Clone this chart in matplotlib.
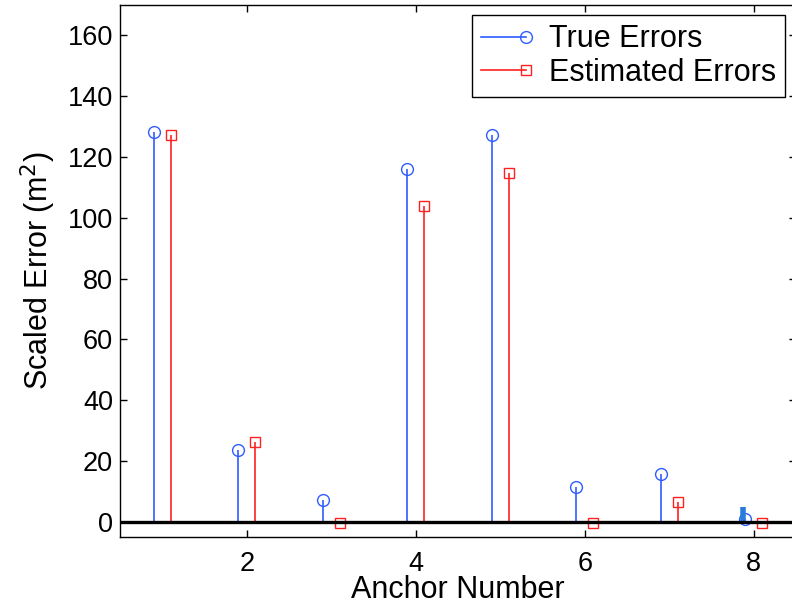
import matplotlib
matplotlib.use('Agg')
import matplotlib.pyplot as plt
import numpy as np
from matplotlib.lines import Line2D
from matplotlib.legend_handler import HandlerBase

plt.rcParams['font.family'] = ['Liberation Sans', 'DejaVu Sans']

# Data
anchors = np.arange(1, 9)
true_errors = [128.1, 23.7, 7.2, 116.2, 127.1, 11.5, 15.8, 1.0]
estimated_errors = [127.4, 26.3, -0.3, 104.0, 114.9, -0.3, 6.6, -0.3]
# thick blue blip drawn over the last true stem
blip_top = [5.0]

blue = '#2f5cff'
red = '#ff2020'
offset = 0.1


class HandlerMarkerEnd(HandlerBase):
    """MATLAB-style legend entry: marker at the right end of the line"""
    def create_artists(self, legend, orig_handle, xdescent, ydescent,
                       width, height, fontsize, trans):
        y = height / 2 - ydescent
        line = Line2D([-xdescent, width - xdescent], [y, y],
                      color=orig_handle.get_color(),
                      linewidth=orig_handle.get_linewidth(), transform=trans)
        mark = Line2D([width - xdescent], [y], linestyle='none',
                      marker=orig_handle.get_marker(),
                      markersize=orig_handle.get_markersize(),
                      markeredgecolor=orig_handle.get_color(),
                      markerfacecolor='none',
                      markeredgewidth=orig_handle.get_markeredgewidth(),
                      transform=trans)
        return [line, mark]


fig = plt.figure(figsize=(7.92, 6.05), dpi=100, facecolor='white')
ax = fig.add_axes([120 / 792, 1 - 537 / 605, 676 / 792, 532 / 605])

x_true = anchors - offset
x_est = anchors + offset

m1, s1, b1 = ax.stem(x_true, true_errors, basefmt=' ')
plt.setp(s1, color=blue, linewidth=1.2)
plt.setp(m1, color=blue, marker='o', markersize=8.5, markerfacecolor='none',
         markeredgewidth=1.0)

m2, s2, b2 = ax.stem(x_est, estimated_errors, basefmt=' ')
plt.setp(s2, color=red, linewidth=1.2)
plt.setp(m2, color=red, marker='s', markersize=7.5, markerfacecolor='none',
         markeredgewidth=1.0)

ax.vlines(x_true[-1:] - 0.03, 0, blip_top, color='#2a7bdc', linewidth=4, zorder=3)

ax.axhline(0, color='black', linewidth=2.4, zorder=4)

ax.set_xlim(0.5, 8.5)
ax.set_ylim(-5, 170)
ax.set_xticks([2, 4, 6, 8])
ax.set_yticks(np.arange(0, 161, 20))
ax.tick_params(direction='in', top=True, right=True, labelsize=19.5, length=5, width=1)
ax.tick_params(axis='x', pad=10)
ax.tick_params(axis='y', pad=5)
for sp in ax.spines.values():
    sp.set_linewidth(1)

ax.set_xlabel('Anchor Number', fontsize=22, labelpad=-1)
ax.set_ylabel('Scaled Error (m$^2$)', fontsize=22, labelpad=7)

h1 = Line2D([], [], color=blue, linewidth=1.2, marker='o', markersize=8.5,
            markerfacecolor='none', markeredgewidth=1.0)
h2 = Line2D([], [], color=red, linewidth=1.2, marker='s', markersize=7.5,
            markerfacecolor='none', markeredgewidth=1.0)
leg = ax.legend([h1, h2], ['True Errors', 'Estimated Errors'], loc='upper right',
                bbox_to_anchor=(0.9837, 0.981), borderaxespad=0, fontsize=22,
                handlelength=1.45, handletextpad=0.75,
                borderpad=0.3, labelspacing=0.12, fancybox=False, framealpha=1,
                edgecolor='black', handler_map={Line2D: HandlerMarkerEnd()})
leg.get_frame().set_linewidth(1)

fig.savefig('out.png', dpi=100)
